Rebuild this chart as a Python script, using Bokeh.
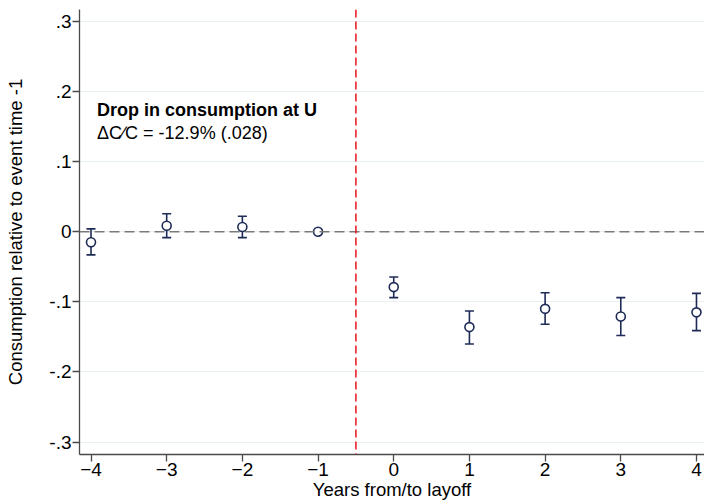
from bokeh.plotting import figure
from bokeh.models import (ColumnDataSource, Whisker, TeeHead, Span, Label,
                          FixedTicker, Range1d)
from bokeh.embed import file_html
from bokeh.resources import INLINE

# ---- data ----
years = [-4, -3, -2, -1, 0, 1, 2, 3, 4]
coef = [-0.015, 0.0085, 0.0067, 0.0, -0.079, -0.136, -0.110, -0.121, -0.115]
ci_lo = [-0.033, -0.0085, -0.0085, 0.0, -0.094, -0.160, -0.132, -0.148, -0.141]
ci_hi = [0.004, 0.0256, 0.022, 0.0, -0.0645, -0.113, -0.087, -0.094, -0.088]

y_ticks = [-0.3, -0.2, -0.1, 0.0, 0.1, 0.2, 0.3]
y_tick_labels = ["-.3", "-.2", "-.1", "0", ".1", ".2", ".3"]
x_ticks = [-4, -3, -2, -1, 0, 1, 2, 3, 4]

event_line = -0.5
title_line = "Drop in consumption at U"
stat_line = "\u0394C\u2215C = -12.9% (.028)"

FONT = "Liberation Sans"
NAVY = "#1f2b57"

src = ColumnDataSource(dict(x=years, y=coef, lo=ci_lo, hi=ci_hi))

p = figure(width=704, height=503, output_backend="svg", toolbar_location=None,
           x_range=Range1d(-4.152, 4.106), y_range=Range1d(-0.3176, 0.3167),
           min_border_left=79, min_border_right=0, min_border_top=9,
           min_border_bottom=49)
p.outline_line_color = None
p.background_fill_color = "white"
p.border_fill_color = "white"

# grid
p.xgrid.grid_line_color = None
p.ygrid.ticker = FixedTicker(ticks=y_ticks)
p.ygrid.grid_line_color = "#e8f0f2"
p.ygrid.grid_line_width = 1.2

# axes
for ax in (p.xaxis[0], p.yaxis[0]):
    ax.axis_line_color = "#4a4a4a"
    ax.axis_line_width = 1.3
    ax.major_tick_line_color = "#4a4a4a"
    ax.major_tick_line_width = 1.3
    ax.major_tick_out = 7
    ax.major_tick_in = 0
    ax.minor_tick_line_color = None
    ax.major_label_text_font = FONT
    ax.major_label_text_font_size = "19px"
    ax.major_label_text_color = "#000000"
    ax.axis_label_text_font = FONT
    ax.axis_label_text_font_size = "18.5px"
    ax.axis_label_text_font_style = "normal"
    ax.axis_label_text_color = "#000000"

p.yaxis.ticker = FixedTicker(ticks=y_ticks)
p.yaxis.major_label_overrides = {t: l for t, l in zip(y_ticks, y_tick_labels)}
p.yaxis.major_label_standoff = 1
p.yaxis.axis_label = "Consumption relative to event time -1"
p.yaxis.axis_label_standoff = 20

p.xaxis.ticker = FixedTicker(ticks=x_ticks)
p.xaxis.major_label_standoff = 1
p.xaxis.axis_label = "Years from/to layoff"
p.xaxis.axis_label_standoff = 0

# reference lines
p.add_layout(Span(location=0, dimension="width", line_color="#7a7a7a",
                  line_width=1.5, line_dash="10 5"))
p.add_layout(Span(location=event_line, dimension="height", line_color="#e8141c",
                  line_width=1.5, line_dash="8 4"))

# error bars
w = Whisker(base="x", lower="lo", upper="hi", source=src,
            line_color=NAVY, line_width=1.6,
            upper_head=TeeHead(size=9, line_color=NAVY, line_width=1.6),
            lower_head=TeeHead(size=9, line_color=NAVY, line_width=1.6))
p.add_layout(w)

# points
p.scatter("x", "y", source=src, marker="circle", size=9,
          fill_color="white", line_color=NAVY, line_width=1.6)

# annotation
p.add_layout(Label(x=-3.92, y=0.1741, text=title_line, text_font=FONT,
                   text_font_size="18px", text_font_style="bold",
                   text_baseline="alphabetic", text_color="black"))
p.add_layout(Label(x=-3.92, y=0.1400, text=stat_line, text_font=FONT,
                   text_font_size="18px", text_baseline="alphabetic",
                   text_color="black"))

open("out.html", "w").write(file_html(p, INLINE))
